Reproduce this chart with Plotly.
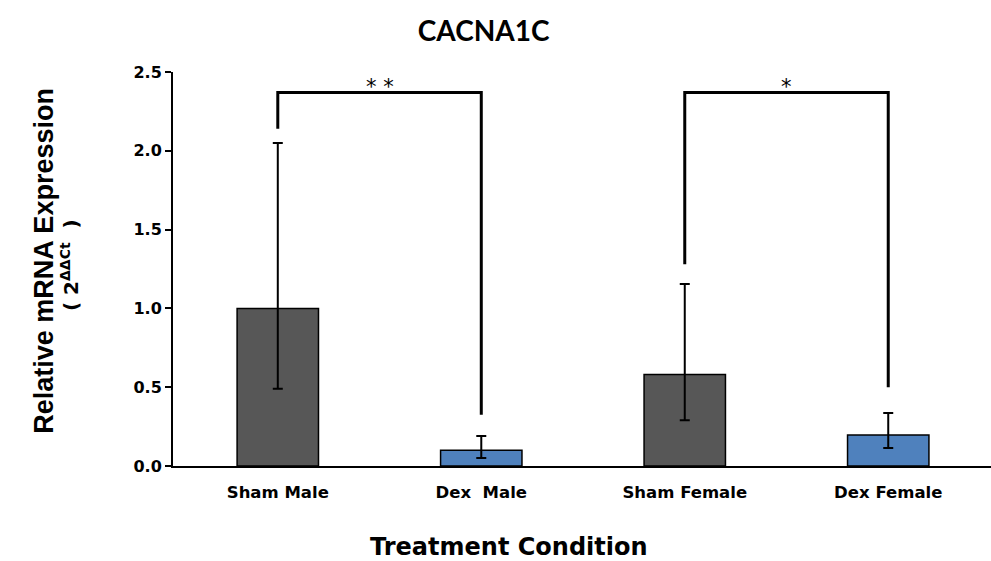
import plotly.graph_objects as go

categories = ["Sham Male", "Dex  Male", "Sham Female", "Dex Female"]
means = [1.00, 0.10, 0.58, 0.197]
err_upper = [2.05, 0.19, 1.155, 0.336]
err_lower = [0.49, 0.05, 0.29, 0.114]
bar_colors = ["#575757", "#4F81BD", "#575757", "#4F81BD"]

# significance brackets
br_left = [0, 2]
br_right = [1, 3]
br_top = [2.37, 2.37]
br_left_bottom = [2.14, 1.28]
br_right_bottom = [0.325, 0.50]
br_labels = ["* *", "*"]

y_ticks = [0.0, 0.5, 1.0, 1.5, 2.0, 2.5]

fig = go.Figure()
fig.add_trace(go.Bar(
    x=categories,
    y=means,
    width=0.4,
    marker=dict(color=bar_colors, line=dict(color="black", width=1.5)),
    error_y=dict(
        type="data", symmetric=False,
        array=[u - m for u, m in zip(err_upper, means)],
        arrayminus=[m - l for m, l in zip(means, err_lower)],
        color="black", thickness=2, width=5,
    ),
    showlegend=False,
))

shapes = []
annotations = []
for li, ri, top, lb, rb, lab in zip(br_left, br_right, br_top, br_left_bottom, br_right_bottom, br_labels):
    shapes.append(dict(type="path", xref="x", yref="y",
                       path=f"M {li},{lb} L {li},{top} L {ri},{top} L {ri},{rb}",
                       line=dict(color="black", width=3)))
    annotations.append(dict(x=(li + ri) / 2, y=top, xref="x", yref="y", text=lab,
                            showarrow=False, yanchor="bottom", yshift=-9,
                            font=dict(family="DejaVu Sans", size=21, color="black")))

annotations.append(dict(x=-0.157, y=0.52, xref="paper", yref="paper",
                        text="<b>Relative mRNA Expression</b>",
                        showarrow=False, textangle=-90, xanchor="center", yanchor="middle",
                        font=dict(family="Liberation Sans", size=27, color="black")))
annotations.append(dict(x=-0.126, y=0.51, xref="paper", yref="paper",
                        text="<b>( 2<sup>ΔΔCt</sup>  )</b>",
                        showarrow=False, textangle=-90, xanchor="center", yanchor="middle",
                        font=dict(family="DejaVu Sans", size=20, color="black")))
annotations.append(dict(x=0.411, y=-0.205, xref="paper", yref="paper",
                        text="<b>Treatment Condition</b>",
                        showarrow=False, xanchor="center", yanchor="middle",
                        font=dict(family="DejaVu Sans", size=24, color="black")))

fig.update_layout(
    width=991, height=561,
    margin=dict(l=173, r=0, t=72, b=95, autoexpand=False),
    paper_bgcolor="white", plot_bgcolor="white",
    title=dict(text="<b>CACNA1C</b>", x=0.488, xanchor="center", y=0.945, yanchor="middle",
               font=dict(family="Lato", size=28, color="black")),
    xaxis=dict(
        type="category",
        range=[-0.515, 3.505],
        showline=True, linecolor="black", linewidth=2,
        ticks="", showgrid=False,
        tickfont=dict(family="DejaVu Sans", size=16.5, color="black", weight="bold"),
        ticklabelstandoff=10,
    ),
    yaxis=dict(
        range=[0, 2.5],
        tickvals=y_ticks,
        tickformat=".1f",
        showline=True, linecolor="black", linewidth=2,
        ticks="outside", ticklen=6, tickwidth=2, tickcolor="black",
        showgrid=False, zeroline=False,
        tickfont=dict(family="DejaVu Sans", size=16, color="black", weight="bold"),
    ),
    shapes=shapes,
    annotations=annotations,
)

fig.write_html("out.html", config={"displayModeBar": False},
               post_script="document.body.style.margin='0';")
